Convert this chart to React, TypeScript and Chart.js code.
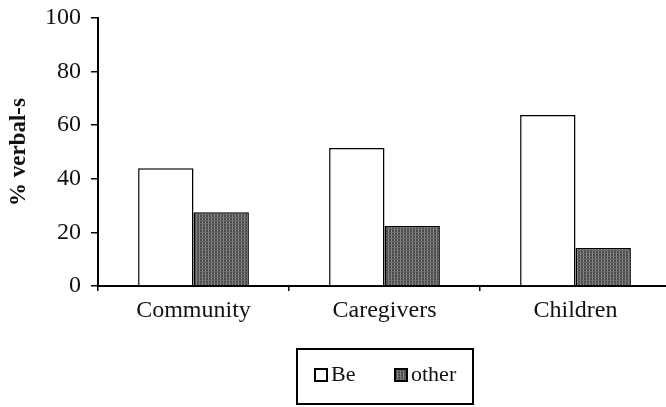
import React, { useEffect, useRef } from "react";
import { Chart, registerables } from "chart.js";

Chart.register(...registerables);

const categories = ["Community", "Caregivers", "Children"];
const seriesNames = ["Be", "other"];
const beValues = [43.9, 51.5, 63.8];
const otherValues = [27.5, 22.4, 14.2];
const yTicks = [0, 20, 40, 60, 80, 100];
const yTitle = "% verbal-s";

const SERIF = "'Liberation Serif', 'DejaVu Serif', serif";

function makePattern(): CanvasPattern | string {
  const c = document.createElement("canvas");
  c.width = 3;
  c.height = 3;
  const ctx = c.getContext("2d");
  if (!ctx) return "#606060";
  ctx.fillStyle = "#4a4a4a";
  ctx.fillRect(0, 0, 3, 3);
  ctx.fillStyle = "#8c8c8c";
  ctx.fillRect(1, 0, 1, 3);
  ctx.fillStyle = "#6a6a6a";
  ctx.fillRect(0, 1, 3, 1);
  const p = ctx.createPattern(c, "repeat");
  return p || "#606060";
}

export default function App() {
  const ref = useRef<HTMLCanvasElement | null>(null);

  useEffect(() => {
    document.body.style.margin = "0";
    const canvas = ref.current;
    if (!canvas) return;
    const pattern = makePattern();

    const legendPlugin = {
      id: "boxLegend",
      afterDraw(chart: any) {
        const ctx = chart.ctx;
        ctx.save();
        ctx.strokeStyle = "#000";
        ctx.lineWidth = 2;
        ctx.strokeRect(297, 349, 176, 55);
        const items = [
          { x: 315, fill: "#ffffff", label: seriesNames[0] },
          { x: 395, fill: pattern, label: seriesNames[1] },
        ];
        const cy = 375;
        items.forEach((it) => {
          ctx.fillStyle = it.fill as any;
          ctx.fillRect(it.x, cy - 6, 12, 12);
          ctx.lineWidth = 2;
          ctx.strokeStyle = "#000";
          ctx.strokeRect(it.x, cy - 6, 12, 12);
          ctx.fillStyle = "#111";
          ctx.font = `22px ${SERIF}`;
          ctx.textBaseline = "middle";
          ctx.textAlign = "left";
          ctx.fillText(it.label, it.x + 16, cy);
        });
        ctx.restore();
      },
    };

    const chart = new Chart(canvas, {
      type: "bar",
      data: {
        labels: categories,
        datasets: [
          {
            label: seriesNames[0],
            data: beValues,
            backgroundColor: "#ffffff",
            borderColor: "#000000",
            borderWidth: 1.5,
            borderSkipped: "bottom",
            barPercentage: 1,
            categoryPercentage: 0.58,
          },
          {
            label: seriesNames[1],
            data: otherValues,
            backgroundColor: pattern as any,
            borderColor: "#000000",
            borderWidth: 1.5,
            borderSkipped: "bottom",
            barPercentage: 1,
            categoryPercentage: 0.58,
          },
        ],
      },
      options: {
        animation: false,
        responsive: false,
        maintainAspectRatio: false,
        devicePixelRatio: 1,
        layout: { padding: { top: 18, right: 3, bottom: 0, left: 0 } },
        plugins: {
          legend: { display: false },
          tooltip: { enabled: false },
        },
        scales: {
          x: {
            grid: {
              display: true,
              drawOnChartArea: false,
              drawTicks: true,
              tickLength: 5,
              color: "#000",
              lineWidth: 1.5,
              offset: true,
            },
            border: { display: true, color: "#000", width: 2 },
            ticks: {
              color: "#111",
              font: { family: SERIF, size: 24 },
              padding: 5,
              maxRotation: 0,
            },
            afterFit(scale: any) {
              scale.height = 121;
              scale.paddingLeft = 0;
              scale.paddingRight = 0;
            },
          },
          y: {
            min: 0,
            max: 100,
            afterBuildTicks(scale: any) {
              scale.ticks = yTicks.map((v) => ({ value: v }));
            },
            grid: {
              display: true,
              drawOnChartArea: false,
              drawTicks: true,
              tickLength: 7,
              color: "#000",
              lineWidth: 1.5,
            },
            border: { display: true, color: "#000", width: 2 },
            ticks: {
              color: "#111",
              font: { family: SERIF, size: 24 },
              padding: 10,
            },
            title: {
              display: true,
              text: yTitle,
              color: "#111",
              font: { family: SERIF, size: 23, weight: "bold" },
              padding: { top: 5, bottom: 0 },
            },
            afterFit(scale: any) {
              scale.width = 98;
              scale.paddingTop = 0;
              scale.paddingBottom = 0;
            },
          },
        },
      },
      plugins: [legendPlugin],
    });

    return () => chart.destroy();
  }, []);

  return (
    <div style={{ position: "absolute", left: 0, top: 0, width: 666, height: 407, overflow: "hidden", background: "#fff" }}>
      <canvas ref={ref} width={674} height={407} style={{ display: "block", width: 674, height: 407 }} />
    </div>
  );
}
